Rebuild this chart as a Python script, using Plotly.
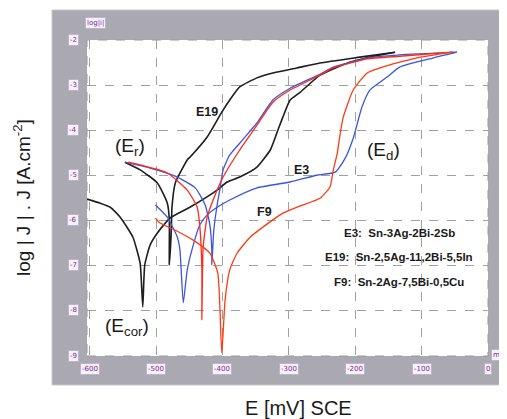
import plotly.graph_objects as go

# ---------------- data ----------------
# E19 (black)
e19_fwd_E = [-547, -524, -498, -483, -480, -480, -480, -477, -476, -471, -453, -449, -423, -401, -389, -374, -348, -324, -288, -253, -193, -140]
e19_fwd_L = [-4.71, -4.88, -5.17, -5.62, -5.99, -6.55, -6.99, -6.22, -5.71, -5.17, -4.66, -4.60, -4.15, -3.60, -3.33, -3.04, -2.84, -2.73, -2.62, -2.51, -2.38, -2.27]
e19_rev_E = [-140, -178, -215, -253, -283, -298, -309, -318, -328, -348, -374, -393, -408, -449, -479, -498, -509, -517, -520, -524, -535, -554, -569, -584, -604]
e19_rev_L = [-2.27, -2.38, -2.53, -2.78, -3.16, -3.33, -3.71, -4.06, -4.44, -4.82, -5.04, -5.15, -5.33, -5.71, -5.95, -6.28, -6.55, -6.99, -7.92, -6.95, -6.37, -5.93, -5.71, -5.62, -5.53]

# E3 (blue)
e3_fwd_E = [-547, -509, -471, -441, -426, -419, -416, -416, -413, -408, -404, -399, -389, -374, -348, -324, -298, -253, -233, -182, -133, -47]
e3_fwd_L = [-4.71, -4.84, -5.02, -5.28, -5.66, -6.10, -6.66, -6.99, -6.22, -5.66, -5.33, -4.88, -4.55, -4.29, -3.84, -3.33, -3.07, -2.76, -2.60, -2.40, -2.33, -2.27]
e3_rev_E = [-47, -83, -133, -152, -178, -190, -203, -215, -230, -258, -298, -348, -389, -408, -423, -434, -444, -453, -459, -464, -468, -483, -501]
e3_rev_L = [-2.27, -2.40, -2.60, -2.82, -3.11, -3.49, -4.18, -4.62, -4.93, -5.00, -5.15, -5.28, -5.55, -5.71, -5.88, -6.10, -6.55, -7.10, -7.83, -6.66, -6.37, -5.93, -5.66]

# F9 (red)
f9_fwd_E = [-542, -524, -483, -453, -438, -434, -431, -431, -429, -423, -414, -399, -374, -348, -324, -298, -253, -233, -182, -133, -53]
f9_fwd_L = [-4.71, -4.77, -4.95, -5.33, -5.71, -6.15, -7.04, -8.21, -6.59, -5.93, -5.55, -5.04, -4.44, -3.89, -3.38, -3.11, -2.78, -2.62, -2.42, -2.36, -2.27]
f9_rev_E = [-53, -108, -159, -182, -203, -218, -223, -227, -233, -238, -253, -283, -309, -324, -358, -378, -389, -396, -401, -407, -419, -444, -471, -494, -501]
f9_rev_L = [-2.27, -2.40, -2.60, -2.73, -3.11, -3.71, -4.11, -4.51, -4.88, -5.26, -5.51, -5.68, -5.84, -5.99, -6.37, -6.73, -7.10, -7.77, -8.94, -7.17, -6.73, -6.44, -6.22, -6.06, -5.95]

x_tick_vals = [-600, -500, -400, -300, -200, -100, 0]
x_tick_text = ["-600", "-500", "-400", "-300", "-200", "-100", "0"]
y_tick_vals = [-2, -3, -4, -5, -6, -7, -8, -9]
y_tick_text = ["-2", "-3", "-4", "-5", "-6", "-7", "-8", "-9"]

legend_lines = ["E3:  Sn-3Ag-2Bi-2Sb", "E19:  Sn-2,5Ag-11,2Bi-5,5In", "F9:  Sn-2Ag-7,5Bi-0,5Cu"]

# ---------------- figure ----------------
W, H = 507, 419
OFF = 8  # page body margin
PL, PT, PR, PB = 87, 40, 488, 356  # plot area in page pixels
PW, PH = PR - PL, PB - PT


def px(x):
    return (x - PL) / PW


def py(y):
    return (PB - y) / PH


BLACK = "#1e1e1e"
BLUE = "#3a55e0"
RED = "#ff2a1a"

fig = go.Figure()
series = [
    (e19_fwd_E, e19_fwd_L, BLACK, 1.6),
    (e19_rev_E, e19_rev_L, BLACK, 1.6),
    (e3_fwd_E, e3_fwd_L, BLUE, 1.3),
    (e3_rev_E, e3_rev_L, BLUE, 1.3),
    (f9_fwd_E, f9_fwd_L, RED, 1.3),
    (f9_rev_E, f9_rev_L, "#ff3a10", 1.3),
]
for xs, ys, c, w in series:
    fig.add_trace(go.Scatter(x=xs, y=ys, mode="lines", line=dict(color=c, width=w, shape="spline", smoothing=0.5),
                             showlegend=False, hoverinfo="skip"))

shapes = [
    dict(type="rect", xref="paper", yref="paper", x0=px(52), x1=px(500), y0=py(385), y1=py(10),
         fillcolor="#aaa8b0", line=dict(color="#c8c6cc", width=1), layer="below"),
    dict(type="rect", xref="paper", yref="paper", x0=0, x1=1, y0=0, y1=1,
         fillcolor="white", line=dict(color="#9a9a9a", width=1, dash="dash"), layer="below"),
]

C = dict(xanchor="center", yanchor="middle", showarrow=False)
annotations = []
tick_box = dict(bgcolor="#f6f2fa", bordercolor="#bdb3cc", borderwidth=1, borderpad=1,
                font=dict(family="DejaVu Sans", size=7, color="#7a1fa0"), **C)
for v, t in zip(x_tick_vals, x_tick_text):
    annotations.append(dict(x=v, xref="x", y=py(369), yref="paper", text=t, **tick_box))
for v, t in zip(y_tick_vals, y_tick_text):
    annotations.append(dict(x=px(73), xref="paper", y=v, yref="y", text=t, **tick_box))
annotations.append(dict(x=px(95), xref="paper", y=py(23), yref="paper", text="log|i|", **tick_box))
annotations.append(dict(x=px(499), xref="paper", y=py(355), yref="paper", text="mV", **tick_box))

big = dict(family="Liberation Sans, Arial", size=19, color="#1a1a1a")
annotations += [
    dict(x=px(130), y=py(147), xref="paper", yref="paper", text="(E<sub>r</sub>)", font=big, **C),
    dict(x=px(127), y=py(327), xref="paper", yref="paper", text="(E<sub>cor</sub>)", font=big, **C),
    dict(x=px(383), y=py(151), xref="paper", yref="paper", text="(E<sub>d</sub>)", font=big, **C),
]
lab = dict(family="Liberation Sans, Arial", size=12.5, color="#1a1a1a")
annotations += [
    dict(x=px(207), y=py(112), xref="paper", yref="paper", text="<b>E19</b>", font=lab, **C),
    dict(x=px(301), y=py(170), xref="paper", yref="paper", text="<b>E3</b>", font=lab, **C),
    dict(x=px(264), y=py(212), xref="paper", yref="paper", text="<b>F9</b>", font=lab, **C),
]
for ln, yy in zip(legend_lines, [233, 257, 282]):
    annotations.append(dict(x=px(399), y=py(yy), xref="paper", yref="paper", text="<b>" + ln + "</b>",
                            font=dict(family="Liberation Sans, Arial", size=11.5, color="#1a1a1a"), **C))

# axis titles
annotations.append(dict(x=px(298), y=py(408), xref="paper", yref="paper", text="E [mV] SCE",
                        font=dict(family="Liberation Sans, Arial", size=20, color="#1a1a1a"), **C))
annotations.append(dict(x=px(22), y=py(198), xref="paper", yref="paper",
                        text="log | J | . J [A.cm<sup>-2</sup>]", textangle=-90,
                        font=dict(family="Liberation Sans, Arial", size=19, color="#1a1a1a"), **C))

fig.update_layout(
    width=W, height=H,
    margin=dict(l=PL - OFF, r=W + OFF - PR, t=PT - OFF, b=H + OFF - PB),
    paper_bgcolor="white", plot_bgcolor="white",
    shapes=shapes, annotations=annotations,
    xaxis=dict(range=[-604, 0], tickvals=x_tick_vals, showticklabels=False, ticks="",
               showgrid=True, gridcolor="#a0a0a0", griddash="dash", gridwidth=1, zeroline=False, showline=False),
    yaxis=dict(range=[-9.01, -2.0], tickvals=y_tick_vals, showticklabels=False, ticks="",
               showgrid=True, gridcolor="#a0a0a0", griddash="dash", gridwidth=1, zeroline=False, showline=False),
)

fig.write_html("out.html")
